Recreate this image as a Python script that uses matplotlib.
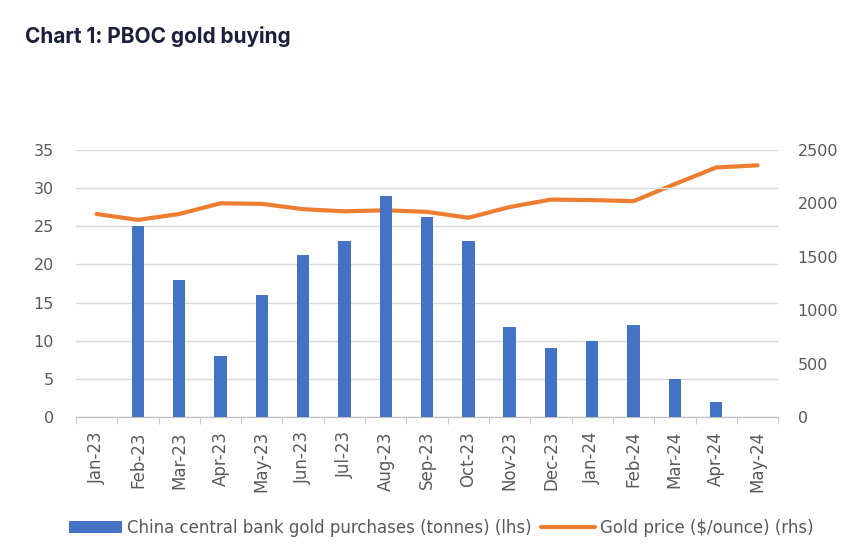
import numpy as np
import matplotlib.pyplot as plt

months = ['Jan-23', 'Feb-23', 'Mar-23', 'Apr-23', 'May-23', 'Jun-23', 'Jul-23', 'Aug-23',
          'Sep-23', 'Oct-23', 'Nov-23', 'Dec-23', 'Jan-24', 'Feb-24', 'Mar-24', 'Apr-24', 'May-24']
pboc_tonnes = [0, 25, 18, 8, 16, 21.2, 23, 28.9, 26.2, 23, 11.8, 9, 10, 12.1, 5, 2, 0]
gold_price = [1900, 1845, 1900, 2000, 1995, 1945, 1925, 1935, 1920, 1865, 1965, 2035, 2030, 2020,
              2180, 2335, 2355]

grey = '#595959'

fig = plt.figure(figsize=(8.48, 5.57), dpi=100)
ax = fig.add_axes([0.0896, 0.251, 0.828, 0.48])
ax2 = ax.twinx()

x = np.arange(len(months))
ax.bar(x, pboc_tonnes, width=0.3, color='#4472C4', zorder=3,
       label='China central bank gold purchases (tonnes) (lhs)')
ax2.plot(x, gold_price, color='#ED7D31', lw=3, solid_capstyle='round',
         label='Gold price ($/ounce) (rhs)')

ax.set_xlim(-0.5, len(months) - 0.5)
ax.set_ylim(0, 35)
ax.set_yticks(range(0, 36, 5))
ax2.set_ylim(0, 2500)
ax2.set_yticks(range(0, 2501, 500))

ax.set_xticks(x)
ax.set_xticklabels(months, rotation=90, fontsize=12, color=grey)
ax.set_xticks(np.arange(-0.5, len(months), 1), minor=True)
ax.tick_params(axis='x', which='major', length=0, pad=10)
ax.tick_params(axis='x', which='minor', length=5, color='#bfbfbf', direction='out')
ax.tick_params(axis='y', length=0, labelsize=11.5, labelcolor=grey, pad=16)
ax2.tick_params(axis='y', length=0, labelsize=11.5, labelcolor=grey, pad=14)

ax.grid(axis='y', color='#d9d9d9', lw=1, zorder=0)
for a in (ax, ax2):
    for s in ['top', 'left', 'right']:
        a.spines[s].set_visible(False)
    a.spines['bottom'].set_color('#bfbfbf')
ax.set_zorder(ax2.get_zorder() + 1)
ax.patch.set_visible(False)

h1, l1 = ax.get_legend_handles_labels()
h2, l2 = ax2.get_legend_handles_labels()
fig.legend(h1 + h2, l1 + l2, loc='center', bbox_to_anchor=(0.52, 0.052), ncol=2, frameon=False,
           fontsize=12, labelcolor=grey, handlelength=3.2, handletextpad=0.3, columnspacing=0.6)

fig.text(0.03, 0.922, 'Chart 1: PBOC gold buying', fontsize=15, fontweight='bold',
         color='#1b1f3b', family='Inter')

fig.savefig('out.png', dpi=100)
